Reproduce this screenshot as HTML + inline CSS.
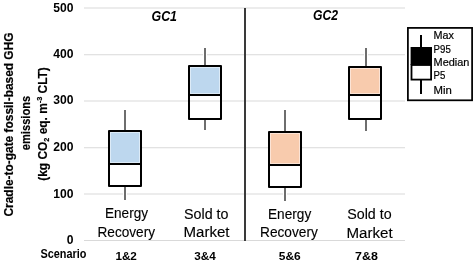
<!DOCTYPE html>
<html><head><meta charset="utf-8">
<style>
html,body{margin:0;padding:0;background:#fff;width:475px;height:263px;overflow:hidden}
svg{display:block;will-change:transform}
text{font-family:"Liberation Sans",sans-serif;fill:#000}
.b{font-weight:bold}
</style></head><body>
<svg width="475" height="263" viewBox="0 0 475 263">
<rect width="475" height="263" fill="#fff"/>
<!-- gridlines -->
<g stroke="#D9D9D9" stroke-width="1.1">
<line x1="84" y1="8" x2="405" y2="8"/>
<line x1="84" y1="54.7" x2="405" y2="54.7"/>
<line x1="84" y1="101" x2="405" y2="101"/>
<line x1="84" y1="147.7" x2="405" y2="147.7"/>
<line x1="84" y1="194" x2="405" y2="194"/>
</g>
<line x1="84" y1="240.5" x2="405" y2="240.5" stroke="#D9D9D9" stroke-width="1"/>
<!-- divider -->
<rect x="244" y="8" width="2" height="233" fill="#3a3a3a"/>
<!-- whiskers -->
<g stroke="#fff" stroke-width="4">
<line x1="125" y1="110" x2="125" y2="131"/><line x1="125" y1="186" x2="125" y2="200"/>
<line x1="205" y1="48" x2="205" y2="66"/><line x1="205" y1="119" x2="205" y2="130"/>
<line x1="285" y1="110" x2="285" y2="132"/><line x1="285" y1="187" x2="285" y2="201"/>
<line x1="366" y1="48" x2="366" y2="67"/><line x1="366" y1="119" x2="366" y2="131"/>
</g>
<g stroke="#6e6e6e" stroke-width="2">
<line x1="125" y1="110" x2="125" y2="131"/><line x1="125" y1="186" x2="125" y2="200"/>
<line x1="205" y1="48" x2="205" y2="66"/><line x1="205" y1="119" x2="205" y2="130"/>
<line x1="285" y1="110" x2="285" y2="132"/><line x1="285" y1="187" x2="285" y2="201"/>
<line x1="366" y1="48" x2="366" y2="67"/><line x1="366" y1="119" x2="366" y2="131"/>
</g>
<!-- boxes -->
<g stroke="#000" stroke-width="2" stroke-linejoin="round">
<rect x="109" y="131" width="32" height="33" fill="#BDD7EE"/>
<rect x="109" y="164" width="32" height="22" fill="none"/>
<rect x="189" y="66" width="32" height="29" fill="#BDD7EE"/>
<rect x="189" y="95" width="32" height="24" fill="none"/>
<rect x="269" y="132" width="32" height="33" fill="#F8CBAD"/>
<rect x="269" y="165" width="32" height="22" fill="none"/>
<rect x="349" y="67" width="32" height="28" fill="#F8CBAD"/>
<rect x="349" y="95" width="32" height="24" fill="none"/>
</g>
<g stroke-width="1" fill="none">
<rect x="110.5" y="132.5" width="29" height="30" stroke="#DDEBF7"/>
<rect x="190.5" y="67.5" width="29" height="26" stroke="#DDEBF7"/>
<rect x="270.5" y="133.5" width="29" height="30" stroke="#FCE4D6"/>
<rect x="350.5" y="68.5" width="29" height="25" stroke="#FCE4D6"/>
</g>
<!-- legend -->
<rect x="407.9" y="27.9" width="64.2" height="72.4" fill="#fff" stroke="#000" stroke-width="1.75"/>
<line x1="421" y1="35" x2="421" y2="94" stroke="#000" stroke-width="2"/>
<rect x="410.6" y="47" width="21.4" height="18" fill="#000"/>
<rect x="411.5" y="65" width="19.6" height="14.6" fill="#fff" stroke="#000" stroke-width="1.8"/>
<g style="font-size:10.8px;stroke:#000;stroke-width:0.2px">
<text x="433.6" y="38.8" textLength="20.4" lengthAdjust="spacingAndGlyphs">Max</text>
<text x="433.6" y="52.5" textLength="17.2" lengthAdjust="spacingAndGlyphs">P95</text>
<text x="433.6" y="65.7" textLength="35.8" lengthAdjust="spacingAndGlyphs">Median</text>
<text x="433.6" y="79.4" textLength="11.8" lengthAdjust="spacingAndGlyphs">P5</text>
<text x="433.6" y="93.8" textLength="18.3" lengthAdjust="spacingAndGlyphs">Min</text>
</g>
<!-- titles -->
<g class="b" style="font-size:15px;font-style:italic">
<text x="151.5" y="21" textLength="25.5" lengthAdjust="spacingAndGlyphs">GC1</text>
<text x="313" y="20.3" textLength="25" lengthAdjust="spacingAndGlyphs">GC2</text>
</g>
<!-- y ticks -->
<g class="b" style="font-size:12.1px" text-anchor="end">
<text x="73.5" y="11.9">500</text>
<text x="73.5" y="57.9">400</text>
<text x="73.5" y="103.9">300</text>
<text x="73.5" y="150.9">200</text>
<text x="73.5" y="197.9">100</text>
<text x="73.5" y="243.9">0</text>
</g>
<!-- x labels -->
<g style="font-size:14px;stroke:#000;stroke-width:0.12px">
<text x="105" y="217.9" textLength="43" lengthAdjust="spacingAndGlyphs">Energy</text>
<text x="97.5" y="236.5" textLength="57.5" lengthAdjust="spacingAndGlyphs">Recovery</text>
<text x="184" y="218.7" textLength="44.5" lengthAdjust="spacingAndGlyphs">Sold to</text>
<text x="183.5" y="237.2" textLength="46" lengthAdjust="spacingAndGlyphs">Market</text>
<text x="268" y="218.8" textLength="43.2" lengthAdjust="spacingAndGlyphs">Energy</text>
<text x="260" y="237.2" textLength="57.8" lengthAdjust="spacingAndGlyphs">Recovery</text>
<text x="347.3" y="219.3" textLength="44.3" lengthAdjust="spacingAndGlyphs">Sold to</text>
<text x="346.4" y="237.5" textLength="46.2" lengthAdjust="spacingAndGlyphs">Market</text>
</g>
<!-- scenario row -->
<g class="b" style="font-size:11px">
<text x="40.5" y="257.8" textLength="46" style="font-size:11.9px" lengthAdjust="spacingAndGlyphs">Scenario</text>
<text x="115.4" y="259.9" style="font-size:11.5px" textLength="21.5" lengthAdjust="spacingAndGlyphs">1&amp;2</text>
<text x="194.2" y="259.9" style="font-size:11.5px" textLength="21.5" lengthAdjust="spacingAndGlyphs">3&amp;4</text>
<text x="278.8" y="259.9" style="font-size:11.5px" textLength="22" lengthAdjust="spacingAndGlyphs">5&amp;6</text>
<text x="355" y="259.9" style="font-size:11.5px" textLength="22.8" lengthAdjust="spacingAndGlyphs">7&amp;8</text>
</g>
<!-- y axis title -->
<g class="b" style="font-size:13px;stroke:#000;stroke-width:0.2px" text-anchor="middle">
<text transform="translate(13.3,124.5) rotate(-90)" x="0" y="0" textLength="184" lengthAdjust="spacingAndGlyphs">Cradle-to-gate fossil-based GHG</text>
<text transform="translate(29.8,123) rotate(-90)" x="0" y="0" textLength="54.5" lengthAdjust="spacingAndGlyphs">emissions</text>
<text transform="translate(46.9,124) rotate(-90)" x="0" y="0" textLength="113.5" lengthAdjust="spacingAndGlyphs">(kg CO<tspan font-size="8" dy="2.5">2</tspan><tspan dy="-2.5"> eq. m</tspan><tspan font-size="8" dy="-4.5">-3</tspan><tspan dy="4.5"> CLT)</tspan></text>
</g>
</svg>
</body></html>
